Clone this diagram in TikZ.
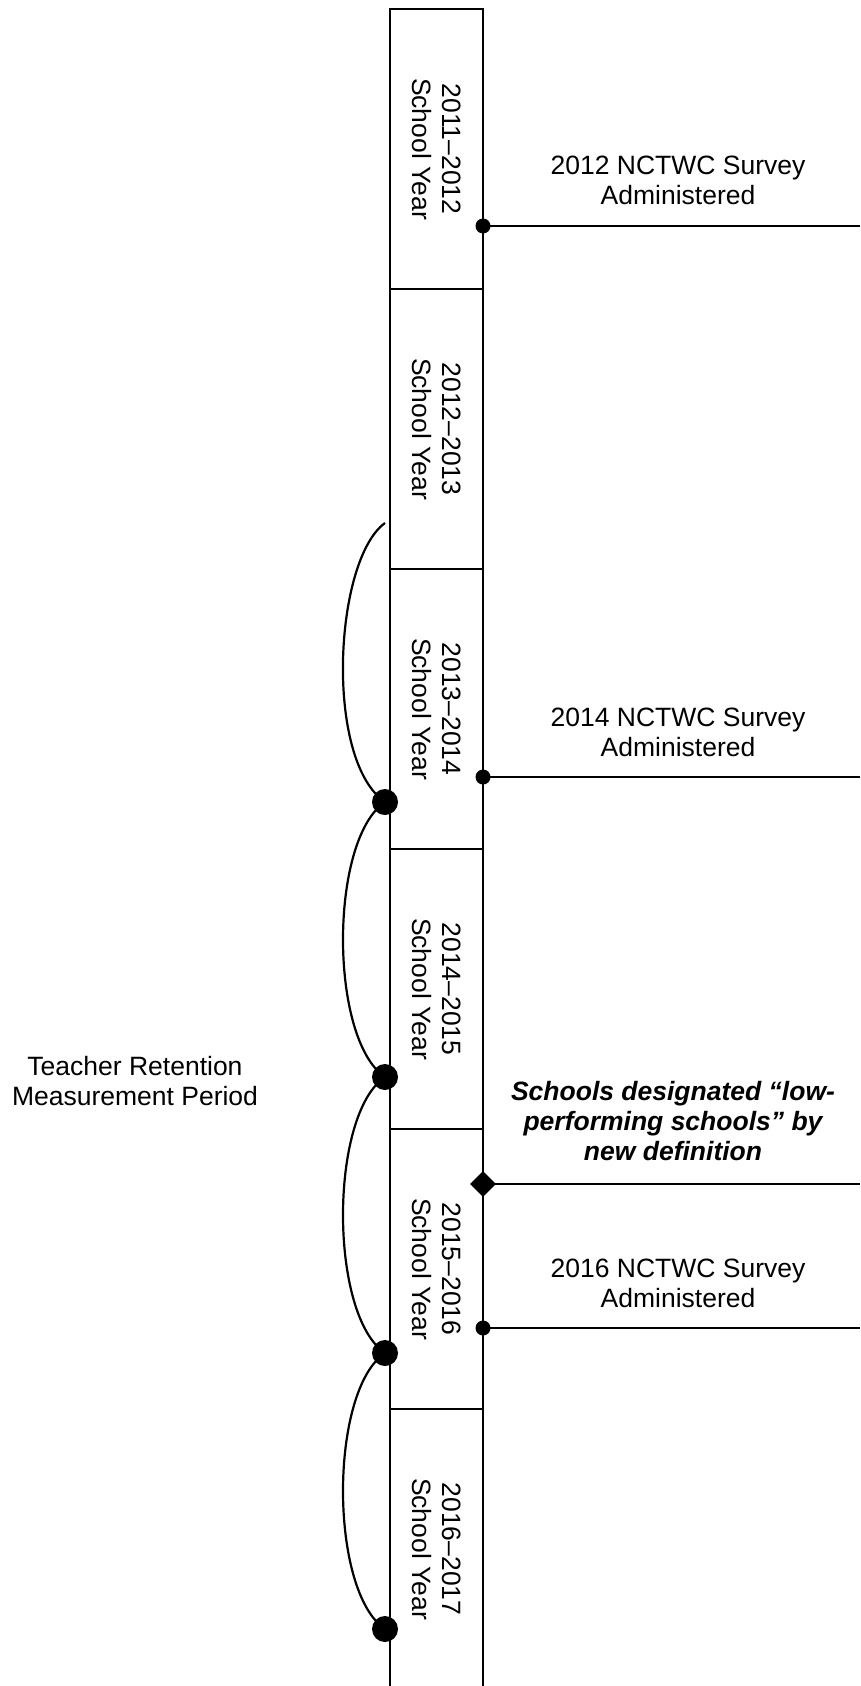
\documentclass[tikz,border=0pt]{standalone}
\usepackage{fontspec}
\setmainfont{Liberation Sans}
\usetikzlibrary{shapes.geometric,calc}
\begin{document}
\begin{tikzpicture}[x=1pt,y=-1pt,
  every node/.style={font=\fontsize{26.5}{30}\selectfont},
  yearbox/.style={draw, line width=2pt, rotate=-90, minimum width=280pt, minimum height=93pt, inner sep=0pt, align=center},
  lbl/.style={align=center, inner sep=0pt},
  boldlbl/.style={align=center, inner sep=0pt, font=\fontsize{26.5}{30}\selectfont\bfseries\itshape},
  bigdot/.style={circle, fill, inner sep=0pt, minimum size=26pt},
  smalldot/.style={circle, fill, inner sep=0pt, minimum size=15pt},
  diam/.style={diamond, fill, inner sep=0pt, minimum width=26pt, minimum height=26pt},
  conn/.style={line width=2pt},
  arc/.style={line width=2.2pt}
]
\useasboundingbox (0,0) rectangle (860,1686);
\clip (0,0) rectangle (860,1686);

% year boxes
\node[yearbox] (y1) at (436.5,149) {2011–2012\\School Year};
\node[yearbox] (y2) at (436.5,429) {2012–2013\\School Year};
\node[yearbox] (y3) at (436.5,709) {2013–2014\\School Year};
\node[yearbox] (y4) at (436.5,989) {2014–2015\\School Year};
\node[yearbox] (y5) at (436.5,1269) {2015–2016\\School Year};
\node[yearbox] (y6) at (436.5,1549) {2016–2017\\School Year};

% event end points
\coordinate (e1) at (860,226);
\coordinate (e2) at (860,777);
\coordinate (e3) at (860,1184);
\coordinate (e4) at (860,1328);
\coordinate (s1) at (483,226);
\coordinate (s2) at (483,777);
\coordinate (s3) at (483,1184);
\coordinate (s4) at (483,1328);

\draw[conn] (s1) -- (e1);
\draw[conn] (s2) -- (e2);
\draw[conn] (s3) -- (e3);
\draw[conn] (s4) -- (e4);

\node[smalldot] (p1) at (s1) {};
\node[smalldot] (p2) at (s2) {};
\node[diam] (p3) at (s3) {};
\node[smalldot] (p4) at (s4) {};

% labels
\node[lbl] (l1) at (678,180) {2012 NCTWC Survey\\Administered};
\node[lbl] (l2) at (678,732) {2014 NCTWC Survey\\Administered};
\node[boldlbl] (l3) at (673,1121) {Schools designated “low-\\performing schools” by\\new definition};
\node[lbl] (l4) at (678,1283) {2016 NCTWC Survey\\Administered};

% retention measurement arcs
\coordinate (a0) at (385,523);
\coordinate (d1) at (385,802);
\coordinate (d2) at (385,1077);
\coordinate (d3) at (385,1353);
\coordinate (d4) at (385,1629);

\draw[arc] (a0) .. controls ($(a0)+(-51,37)$) and ($(d1)+(-61,-42)$) .. (d1);
\draw[arc] (d1) .. controls ($(d1)+(-56,38)$) and ($(d2)+(-56,-38)$) .. (d2);
\draw[arc] (d2) .. controls ($(d2)+(-56,38)$) and ($(d3)+(-56,-38)$) .. (d3);
\draw[arc] (d3) .. controls ($(d3)+(-56,38)$) and ($(d4)+(-56,-38)$) .. (d4);

\node[bigdot] (b1) at (d1) {};
\node[bigdot] (b2) at (d2) {};
\node[bigdot] (b3) at (d3) {};
\node[bigdot] (b4) at (d4) {};

\node[lbl] (trm) at (135,1081) {Teacher Retention\\Measurement Period};
\end{tikzpicture}
\end{document}
